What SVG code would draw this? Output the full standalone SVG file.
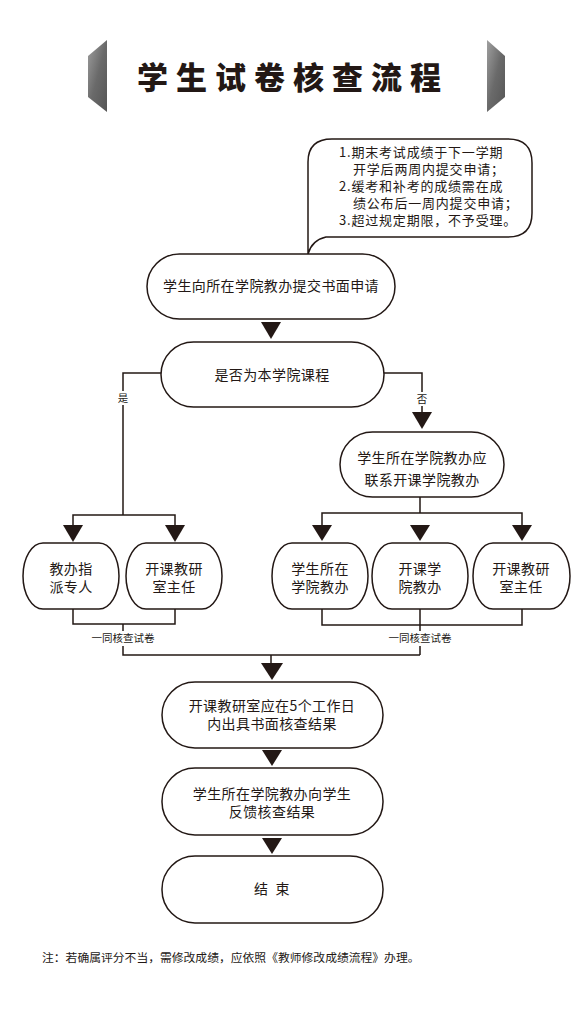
<svg xmlns="http://www.w3.org/2000/svg" width="588" height="1022" viewBox="0 0 588 1022">
<defs>
<linearGradient id="deco" x1="0" y1="0" x2="1" y2="1">
<stop offset="0" stop-color="#a0a0a0"/>
<stop offset="0.5" stop-color="#6a6a6a"/>
<stop offset="1" stop-color="#555"/>
</linearGradient>
<style>
.n{fill:#fff;stroke:#231815;stroke-width:1.5}
.t{font-family:"Noto Sans CJK SC","Noto Sans",sans-serif;fill:#231815;text-anchor:middle;font-size:14px;letter-spacing:0.4px}
.s{font-family:"Noto Sans CJK SC","Noto Sans",sans-serif;fill:#231815;font-size:13px;letter-spacing:0.8px}
.l{font-family:"Noto Sans CJK SC","Noto Sans",sans-serif;fill:#231815;text-anchor:middle;font-size:10.5px}
.c{fill:none;stroke:#231815;stroke-width:1.5}
.a{fill:#231815}
</style>
</defs>
<rect width="588" height="1022" fill="#fff"/>
<g id="title">
<polygon points="107,40 88,56 88,97 107,112" fill="url(#deco)"/>
<polygon points="487,40 505,56 505,97 487,112" fill="url(#deco)"/>
<text x="293" y="89" font-family="Noto Sans CJK SC,sans-serif" font-weight="900" font-size="31" fill="#231815" text-anchor="middle" letter-spacing="8">学生试卷核查流程</text>
</g>
<g id="note-bubble">
<path class="n" d="M308,254 L308,162 Q308,139 332,139 L508,139 Q532,139 532,163 L532,213 Q532,237 508,237 L326,237 Q312,240 308,254 Z"/>
<text class="s" x="339" y="157">1.期末考试成绩于下一学期</text>
<text class="s" x="353" y="174">开学后两周内提交申请；</text>
<text class="s" x="339" y="191">2.缓考和补考的成绩需在成</text>
<text class="s" x="353" y="208">绩公布后一周内提交申请；</text>
<text class="s" x="339" y="225">3.超过规定期限，不予受理。</text>
</g>
<g id="connectors">
<polygon class="a" points="261,322 281,322 271,339"/>
<path class="c" d="M161,373 H123 V515"/>
<path class="c" d="M73,525 V515 H175 V525"/>
<polygon class="a" points="63,525 83,525 73,542"/>
<polygon class="a" points="165,525 185,525 175,542"/>
<path class="c" d="M384,373 H422 V412"/>
<polygon class="a" points="412,412 432,412 422,429"/>
<path class="c" d="M420,497 V513 M322,525 V513 H522 V525"/>
<polygon class="a" points="312,525 332,525 322,541"/>
<polygon class="a" points="410,525 430,525 420,541"/>
<polygon class="a" points="512,525 532,525 522,541"/>
<path class="c" d="M73,609 V624 H175 V609 M123,624 V655 H420 M322,609 V625 H522 V609 M420,609 V655"/>
<path class="c" d="M271,655 V663"/>
<polygon class="a" points="261,663 283,663 272,680"/>
<polygon class="a" points="262,750 282,750 272,766"/>
<polygon class="a" points="262,838 282,838 272,854"/>
<rect x="118" y="391" width="10" height="14" fill="#fff"/>
<text class="l" x="123" y="402">是</text>
<rect x="417" y="392" width="10" height="14" fill="#fff"/>
<text class="l" x="422" y="403">否</text>
<rect x="91" y="631" width="64" height="15" fill="#fff"/>
<text class="l" x="123" y="642">一同核查试卷</text>
<rect x="388" y="631" width="64" height="15" fill="#fff"/>
<text class="l" x="420" y="642">一同核查试卷</text>
</g>
<g id="n1"><rect class="n" x="147" y="254" width="248" height="65" rx="32.5"/><text class="t" x="271" y="291">学生向所在学院教办提交书面申请</text></g>
<g id="n2"><rect class="n" x="161" y="342" width="223" height="65" rx="32.5"/><text class="t" x="272" y="380">是否为本学院课程</text></g>
<g id="n3"><rect class="n" x="340" y="432" width="164" height="65" rx="32.5"/><text class="t" x="422" y="463">学生所在学院教办应</text><text class="t" x="422" y="485">联系开课学院教办</text></g>
<g id="n4"><rect class="n" x="23" y="543" width="96" height="66" rx="20" ry="33"/><text class="t" x="71" y="574">教办指</text><text class="t" x="71" y="592">派专人</text></g>
<g id="n5"><rect class="n" x="126" y="543" width="96" height="66" rx="20" ry="33"/><text class="t" x="174" y="574">开课教研</text><text class="t" x="174" y="592">室主任</text></g>
<g id="n6"><rect class="n" x="272" y="543" width="96" height="66" rx="20" ry="33"/><text class="t" x="320" y="574">学生所在</text><text class="t" x="320" y="592">学院教办</text></g>
<g id="n7"><rect class="n" x="372" y="543" width="96" height="66" rx="20" ry="33"/><text class="t" x="420" y="574">开课学</text><text class="t" x="420" y="592">院教办</text></g>
<g id="n8"><rect class="n" x="473" y="543" width="97" height="66" rx="20" ry="33"/><text class="t" x="521" y="574">开课教研</text><text class="t" x="521" y="592">室主任</text></g>
<g id="n9"><rect class="n" x="162" y="682" width="221" height="66" rx="33"/><text class="t" x="272" y="711">开课教研室应在5个工作日</text><text class="t" x="272" y="729">内出具书面核查结果</text></g>
<g id="n10"><rect class="n" x="162" y="768" width="221" height="67" rx="33"/><text class="t" x="272" y="799">学生所在学院教办向学生</text><text class="t" x="272" y="817">反馈核查结果</text></g>
<g id="n11"><rect class="n" x="162" y="856" width="221" height="67" rx="33"/><text class="t" x="272" y="894" xml:space="preserve">结  束</text></g>
<text x="42" y="962" font-family="Noto Sans CJK SC,sans-serif" font-size="11.8" fill="#231815">注：若确属评分不当，需修改成绩，应依照《教师修改成绩流程》办理。</text>
</svg>
